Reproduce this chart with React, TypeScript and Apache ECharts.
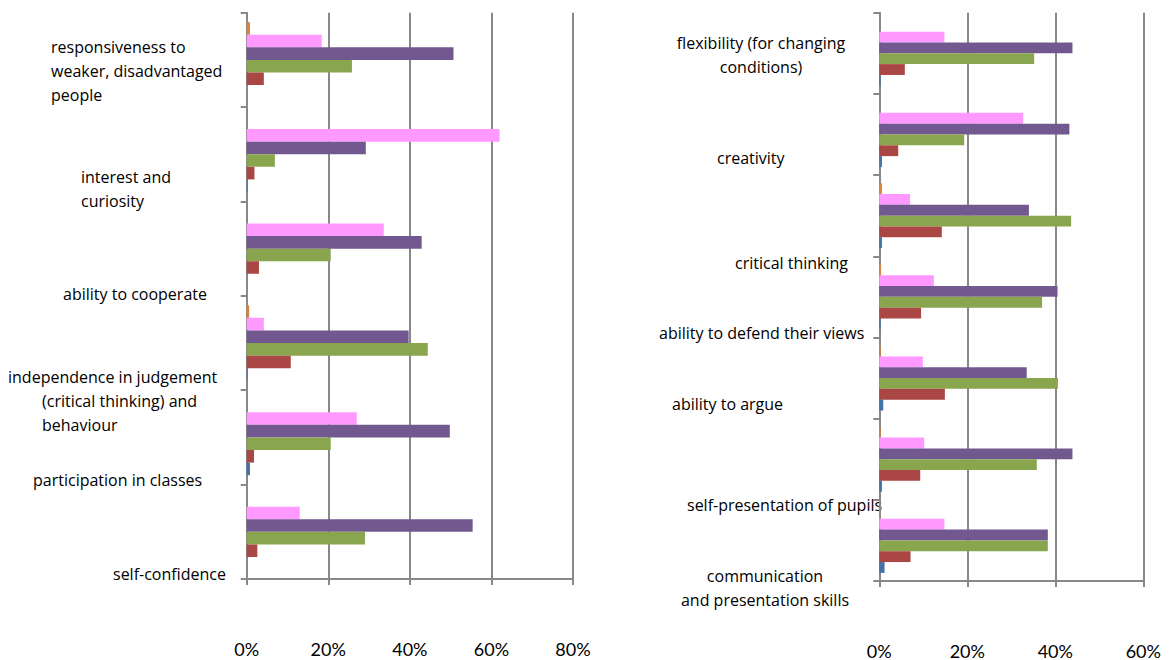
import React, { useEffect, useRef } from "react";
import * as echarts from "echarts";

// Left panel: categories listed bottom to top
const leftCategories = [
  "self-confidence",
  "participation in classes",
  "independence in judgement\n(critical thinking) and\nbehaviour",
  "ability to cooperate",
  "interest and\ncuriosity",
  "responsiveness to\nweaker, disadvantaged\npeople",
];
const leftBlue = [0, 0.8, 0.2, 0, 0.2, 0];
const leftRed = [2.6, 1.8, 10.8, 3.0, 1.9, 4.2];
const leftGreen = [29.0, 20.6, 44.4, 20.6, 6.9, 25.8];
const leftPurple = [55.4, 49.8, 39.7, 42.9, 29.2, 50.7];
const leftPink = [13.0, 27.0, 4.2, 33.6, 62.0, 18.4];
const leftOrange = [0, 0, 0.6, 0, 0, 0.8];

// Right panel: categories listed bottom to top
const rightCategories = [
  "communication\nand presentation skills",
  "self-presentation of pupils",
  "ability to argue",
  "ability to defend their views",
  "critical thinking",
  "creativity",
  "flexibility (for changing\nconditions)",
];
const rightBlue = [1.2, 0.6, 0.9, 0.3, 0.6, 0.6, 0.3];
const rightRed = [7.1, 9.3, 14.9, 9.5, 14.2, 4.3, 5.8];
const rightGreen = [38.3, 35.8, 40.6, 37.0, 43.6, 19.3, 35.2];
const rightPurple = [38.3, 43.9, 33.5, 40.5, 34.0, 43.2, 43.9];
const rightPink = [14.8, 10.2, 9.9, 12.4, 7.0, 32.7, 14.8];
const rightOrange = [0.2, 0.3, 0.3, 0.4, 0.6, 0, 0];

const leftTicks = [0, 20, 40, 60, 80];
const rightTicks = [0, 20, 40, 60];

// Series colours, in stacking order from the top bar of a group to the bottom one
const COLORS = ["#DB843D", "#FF99FF", "#71588F", "#89A54E", "#AA4643", "#4572A7"];
const LABEL_FONT = "'Open Sans', Lato, sans-serif";
const TICK_FONT = "Lato, 'Open Sans', sans-serif";
const AXIS_GRAY = "#888888";

// Label placement for the category names (page pixels); x may differ per line
type LabelPos = { x: number | number[]; y: number; align: "left" | "center" };
const leftLabelPos: LabelPos[] = [
  { x: 113, y: 574, align: "left" },
  { x: 33, y: 480, align: "left" },
  { x: [8, 42, 42], y: 377, align: "left" },
  { x: 63, y: 294, align: "left" },
  { x: 81, y: 177, align: "left" },
  { x: 51, y: 47, align: "left" },
];
const rightLabelPos: LabelPos[] = [
  { x: 765, y: 576, align: "center" },
  { x: 687, y: 505, align: "left" },
  { x: 672, y: 404, align: "left" },
  { x: 659, y: 333, align: "left" },
  { x: 735, y: 263, align: "left" },
  { x: 717, y: 158, align: "left" },
  { x: 761, y: 43, align: "center" },
];

function labelTexts(cats: string[], pos: LabelPos[]) {
  const out: any[] = [];
  cats.forEach((c, i) => {
    const p = pos[i];
    c.split("\n").forEach((line, j) => {
      const x = Array.isArray(p.x) ? p.x[j] : p.x;
      out.push({
        type: "text",
        x,
        y: p.y + j * 24,
        style: {
          text: line,
          fill: "#000",
          font: `16px ${LABEL_FONT}`,
          textAlign: p.align,
          textVerticalAlign: "middle",
        },
        silent: true,
      });
    });
  });
  return out;
}

function barSeries(idx: number, values: number[][]) {
  const names = ["s6", "s5", "s4", "s3", "s2", "s1"];
  return values.map((v, k) => ({
    name: names[k] + "-" + idx,
    type: "bar",
    xAxisIndex: idx,
    yAxisIndex: idx,
    data: v,
    barGap: "0%",
    barCategoryGap: "20%",
    itemStyle: { color: COLORS[k] },
  }));
}

export default function App() {
  const ref = useRef<HTMLDivElement>(null);

  useEffect(() => {
    if (!ref.current) return;
    const chart = echarts.init(ref.current, null, { renderer: "svg" });

    const valueAxis = (gridIndex: number, max: number, margin: number) => ({
      type: "value",
      gridIndex,
      min: 0,
      max,
      interval: 20,
      axisLine: { show: true, lineStyle: { color: AXIS_GRAY, width: 2 } },
      axisTick: { show: true, length: 6, lineStyle: { color: AXIS_GRAY, width: 2 } },
      splitLine: { show: true, lineStyle: { color: AXIS_GRAY, width: 2 } },
      axisLabel: {
        margin,
        formatter: "{value}%",
        color: "#000",
        fontSize: 18,
        fontFamily: TICK_FONT,
      },
    });

    const catAxis = (gridIndex: number, data: string[]) => ({
      type: "category",
      gridIndex,
      data,
      axisLine: { show: true, lineStyle: { color: AXIS_GRAY, width: 2 } },
      axisTick: { show: true, length: 6, interval: 0, lineStyle: { color: AXIS_GRAY, width: 2 } },
      axisLabel: { show: false },
      splitLine: { show: false },
    });

    chart.setOption({
      animation: false,
      grid: [
        { left: 246.7, top: 12.7, width: 326.3, height: 566.3 },
        { left: 879.3, top: 12.7, width: 264, height: 571.3 },
      ],
      xAxis: [
        valueAxis(0, leftTicks[leftTicks.length - 1], 61),
        valueAxis(1, rightTicks[rightTicks.length - 1], 61),
      ],
      yAxis: [catAxis(0, leftCategories), catAxis(1, rightCategories)],
      series: [
        ...barSeries(0, [leftOrange, leftPink, leftPurple, leftGreen, leftRed, leftBlue]),
        ...barSeries(1, [rightOrange, rightPink, rightPurple, rightGreen, rightRed, rightBlue]),
      ],
      graphic: [...labelTexts(leftCategories, leftLabelPos), ...labelTexts(rightCategories, rightLabelPos)],
    });

    return () => chart.dispose();
  }, []);

  return (
    <div
      ref={ref}
      style={{ position: "absolute", left: 0, top: 0, width: 1169, height: 660, background: "#fff" }}
    />
  );
}
